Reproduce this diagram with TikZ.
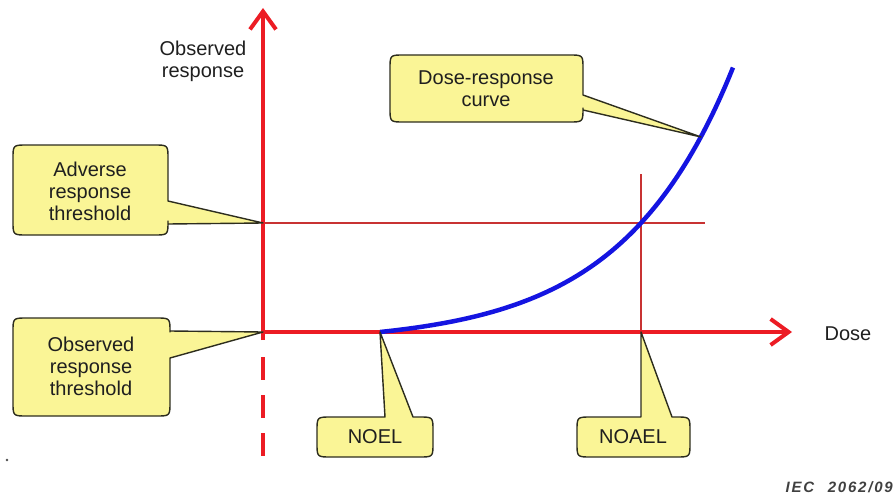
\documentclass[tikz,border=0pt]{standalone}
\usepackage{fontspec}
\setmainfont{Liberation Sans}
\newfontfamily\iecfont[LetterSpace=12]{Liberation Sans}
\usetikzlibrary{arrows.meta}

\definecolor{axisred}{RGB}{236,28,36}
\definecolor{guidered}{RGB}{200,50,50}
\definecolor{curveblue}{RGB}{20,20,225}
\definecolor{balloonfill}{RGB}{250,245,150}
\definecolor{balloonedge}{RGB}{45,45,30}

\tikzset{
  axis/.style={draw=axisred, line width=4pt,
    -{Straight Barb[length=18pt,width=26pt]}},
  guide/.style={draw=guidered, line width=1.3pt},
  balloon/.style={fill=balloonfill, draw=balloonedge, line width=1.4pt, line join=round},
  label/.style={font=\fontsize{20}{22}\selectfont, text=black!88, align=center, inner sep=0pt},
}

% corner radius of the balloons
\newcommand{\crad}{14}

% balloon with its pointer on the right side:
% #1,#2 top-left; #3,#4 bottom-right; #5,#6 pointer base (y); #7 tip
\newcommand{\balloonright}[7]{%
  \draw[balloon] (#1+\crad,#2) -- (#3-\crad,#2) .. controls (#3,#2) .. (#3,#2+\crad)
    -- (#3,#5) -- (#7) -- (#3,#6)
    -- (#3,#4-\crad) .. controls (#3,#4) .. (#3-\crad,#4)
    -- (#1+\crad,#4) .. controls (#1,#4) .. (#1,#4-\crad)
    -- (#1,#2+\crad) .. controls (#1,#2) .. (#1+\crad,#2) -- cycle;}

% balloon with its pointer on the top side:
% #1,#2 top-left; #3,#4 bottom-right; #5,#6 pointer base (x); #7 tip
\newcommand{\balloontop}[7]{%
  \draw[balloon] (#1+\crad,#2) -- (#5,#2) -- (#7) -- (#6,#2)
    -- (#3-\crad,#2) .. controls (#3,#2) .. (#3,#2+\crad)
    -- (#3,#4-\crad) .. controls (#3,#4) .. (#3-\crad,#4)
    -- (#1+\crad,#4) .. controls (#1,#4) .. (#1,#4-\crad)
    -- (#1,#2+\crad) .. controls (#1,#2) .. (#1+\crad,#2) -- cycle;}

\begin{document}
\begin{tikzpicture}[x=1pt,y=-1pt]
  \useasboundingbox (0,0) rectangle (896,495);

  % key points
  \coordinate (origin) at (263,332);
  \coordinate (vbottom) at (263,340);
  \coordinate (ytip) at (263,8);
  \coordinate (xtip) at (792,332);
  \coordinate (dashtop) at (263,357);
  \coordinate (dashbottom) at (263,458);
  \coordinate (noel) at (380,332);
  \coordinate (noael) at (641,332);
  \coordinate (noaeltop) at (641,174);
  \coordinate (adverse) at (263,223);
  \coordinate (adverseend) at (705,223);
  \coordinate (curvept) at (701,137);

  % threshold guides
  \draw[guide] (adverse) -- (adverseend);
  \draw[guide] (noaeltop) -- (noael);

  % axes
  \draw[axis] (vbottom) -- (ytip);
  \draw[axis] (origin) -- (xtip);
  \draw[axisred, line width=4pt, dash pattern=on 23pt off 15pt] (dashtop) -- (dashbottom);

  % dose-response curve
  \draw[curveblue, line width=4.5pt]
    plot[domain=380:733, samples=80, smooth] (\x, {332-11.5*(exp(0.009*(\x-380))-1)});

  % axis labels
  \node[label] (ylabel) at (203,61) {Observed\\response};
  \node[label] (xlabel) at (848,334) {Dose};

  % balloons
  \balloonright{390}{55}{583}{122}{95}{110}{curvept}
  \node[label] (curvelabel) at (486,89) {Dose-response\\curve};

  \balloonright{13}{145}{168}{235}{201}{224}{adverse}
  \node[label] (adverselabel) at (90,191) {Adverse\\response\\threshold};

  \balloonright{13}{318}{170}{416}{331}{358}{origin}
  \node[label] (observedlabel) at (91,366) {Observed\\response\\threshold};

  \balloontop{317}{417}{433}{457}{385}{413}{noel}
  \node[label] (noellabel) at (375,437) {NOEL};

  \balloontop{577}{417}{690}{457}{641}{672}{noael}
  \node[label] (noaellabel) at (633,437) {NOAEL};

  % stray mark and figure number
  \fill[black!70] (7,460) circle (1.3pt);
  \node[anchor=base east, inner sep=0pt, text=black!75,
        font=\iecfont\fontsize{15}{17}\selectfont\bfseries\itshape] (iec) at (893,492) {IEC\hspace{0.9em}2062/09};
\end{tikzpicture}
\end{document}
